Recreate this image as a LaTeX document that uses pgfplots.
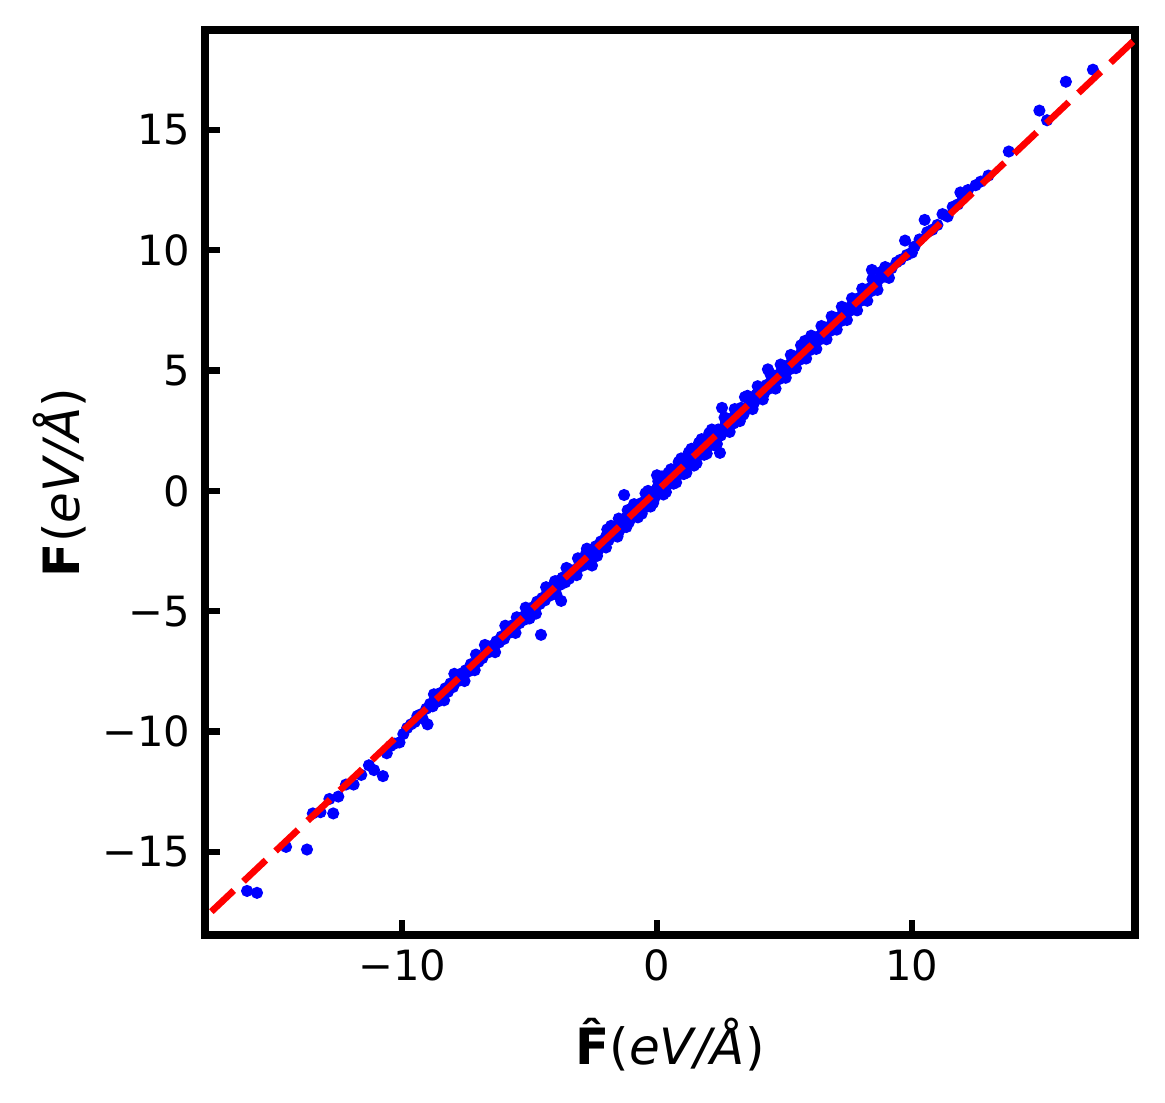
\documentclass[border=0pt]{standalone}
\usepackage{fontspec}
\setmainfont{DejaVu Sans}
\usepackage{pgfplots}
\pgfplotsset{compat=1.18}
\usepackage{pgfplotstable}
\pgfplotstableread{
x y
-16.08 -16.62
-15.69 -16.70
-14.55 -14.79
-13.73 -14.90
-13.50 -13.40
-13.20 -13.35
-12.85 -12.80
-12.70 -13.40
-12.50 -12.70
-12.20 -12.20
-11.90 -12.20
-11.60 -11.80
-11.30 -11.40
-11.10 -11.60
-10.75 -11.85
-10.60 -10.90
-10.45 -10.60
-10.30 -10.50
-10.10 -10.45
-9.95 -10.10
-9.80 -9.85
-9.65 -9.70
-9.50 -9.60
-9.40 -9.35
-9.30 -9.30
-9.20 -9.45
-9.00 -9.70
-9.05 -9.05
-8.90 -8.85
-8.80 -8.95
-8.70 -8.60
-8.60 -8.75
-8.50 -8.40
-8.40 -8.50
-8.30 -8.20
-8.20 -8.35
-8.10 -8.00
-8.00 -8.15
-7.90 -7.85
-7.80 -7.90
-7.70 -7.60
-7.60 -7.75
-7.50 -7.45
-7.40 -7.50
-7.30 -7.20
-7.20 -7.35
-7.10 -6.80
-7.05 -7.05
-7.00 -7.10
-6.85 -6.95
-6.70 -6.60
-6.60 -6.70
-6.50 -6.45
-6.40 -6.50
-6.30 -6.25
-6.20 -6.30
-6.10 -6.05
-6.00 -6.15
-5.90 -5.85
-5.80 -5.90
-5.70 -5.60
-5.60 -5.75
-5.50 -5.45
-5.50 -5.25
-5.40 -5.50
-5.30 -5.25
-5.20 -5.35
-5.10 -5.00
-5.00 -5.10
-5.00 -5.30
-4.90 -4.85
-4.80 -4.95
-4.55 -5.98
-4.70 -4.60
-4.60 -4.70
-4.50 -4.45
-4.40 -4.55
-4.30 -4.20
-4.20 -4.35
-4.10 -4.00
-4.00 -4.20
-4.00 -3.75
-3.90 -3.75
-3.80 -3.90
-3.76 -4.57
-3.70 -3.60
-3.60 -3.80
-3.50 -3.40
-3.45 -3.65
-3.35 -3.30
-3.25 -3.45
-3.10 -2.80
-3.10 -3.20
-3.00 -2.90
-2.90 -3.10
-2.80 -2.65
-2.70 -2.85
-2.60 -2.50
-2.55 -3.10
-2.50 -2.60
-2.40 -2.30
-2.30 -2.45
-2.20 -2.10
-2.10 -2.30
-2.00 -1.90
-2.00 -2.35
-1.90 -2.05
-1.80 -1.70
-1.80 -1.45
-1.70 -1.85
-1.60 -1.50
-1.50 -1.70
-1.50 -1.15
-1.40 -1.30
-1.30 -1.50
-1.29 -0.17
-1.20 -1.10
-1.20 -1.50
-1.10 -1.30
-1.00 -0.90
-0.90 -1.05
-0.90 -0.55
-0.80 -0.70
-0.70 -0.85
-0.60 -0.50
-0.60 -0.95
-0.50 -0.70
-0.40 -0.30
-0.35 0.00
-0.30 -0.50
-0.20 -0.10
-0.15 -0.50
-0.10 -0.30
0.00 0.10
0.00 0.65
0.05 0.40
0.10 -0.10
0.20 0.30
0.20 0.60
0.25 -0.15
0.30 0.10
0.40 0.50
0.45 0.75
0.50 0.30
0.60 0.70
0.65 0.30
0.70 0.50
0.80 0.90
0.85 1.20
0.90 0.70
1.00 1.10
1.05 0.70
1.10 0.90
1.20 1.35
1.25 1.60
1.30 1.10
1.40 1.50
1.45 1.05
1.50 1.30
1.60 1.70
1.65 2.00
1.70 1.50
1.80 1.95
1.85 1.50
1.90 1.70
2.00 2.10
2.05 2.40
2.10 1.90
2.20 2.30
2.25 1.90
2.30 2.15
2.47 1.58
2.40 2.55
2.50 2.30
2.55 3.45
2.70 2.80
2.80 2.60
2.90 3.00
3.00 2.80
3.10 3.25
3.20 3.00
3.30 3.45
3.37 3.16
3.40 3.20
3.45 3.90
3.60 3.50
3.70 3.80
3.80 3.65
3.90 4.00
4.00 3.85
4.10 4.20
4.20 4.05
4.30 4.40
4.35 5.05
4.40 4.25
4.50 4.60
4.60 4.45
4.70 4.80
4.80 4.65
4.90 5.00
5.00 4.85
5.10 5.20
5.20 5.05
5.30 5.40
5.40 5.25
5.50 5.60
5.60 5.45
5.70 5.85
5.80 6.23
5.80 5.65
5.90 6.00
6.00 5.85
6.10 6.20
6.20 6.05
6.30 6.40
6.40 6.30
6.50 6.60
6.60 6.45
6.70 6.80
6.80 6.65
6.90 7.00
7.00 6.90
7.10 7.20
7.20 7.05
7.30 7.40
7.40 7.30
7.50 7.60
7.60 7.50
7.70 7.80
7.80 7.70
7.90 8.00
8.00 7.90
8.10 8.20
8.20 8.10
8.30 8.40
8.43 9.18
8.40 8.30
8.50 8.60
8.60 8.55
8.70 8.80
8.80 9.10
8.90 8.90
9.00 9.10
9.20 9.25
9.73 10.40
9.80 9.80
10.00 9.90
10.10 10.15
10.30 10.45
10.50 11.26
10.60 10.75
10.80 10.85
11.00 11.05
11.20 11.50
11.40 11.40
11.60 11.80
11.80 11.90
11.90 12.40
12.00 12.20
12.20 12.50
12.50 12.70
12.70 12.85
13.00 13.10
13.80 14.10
15.00 15.80
15.30 15.40
16.04 17.00
17.10 17.50
-8.75 -8.45
-8.35 -8.70
-7.95 -7.60
-7.55 -7.90
-7.15 -7.45
-6.75 -6.40
-6.35 -6.70
-5.95 -5.60
-5.55 -5.90
-5.15 -4.85
-4.75 -5.10
-4.35 -4.00
-3.95 -4.30
-3.55 -3.20
-3.15 -3.50
-2.75 -2.40
-2.35 -2.70
-1.95 -1.60
-1.55 -1.90
-1.15 -0.80
-0.75 -1.10
-0.45 -0.10
-0.25 -0.65
0.15 0.50
0.35 -0.05
0.55 0.90
0.75 0.35
0.95 1.35
1.15 0.75
1.35 1.75
1.55 1.15
1.75 2.15
1.95 1.55
2.15 2.55
2.35 1.95
2.65 3.05
2.85 2.45
3.05 3.40
3.25 2.90
3.55 3.95
3.75 3.40
3.95 4.35
4.15 3.80
4.45 4.85
4.65 4.25
4.85 5.25
5.05 4.70
5.25 5.65
5.45 5.10
5.65 6.05
5.85 5.50
6.05 6.45
6.25 5.90
6.45 6.85
6.65 6.30
6.85 7.25
7.05 6.70
7.25 7.65
7.45 7.10
7.65 8.00
7.85 7.50
8.05 8.40
8.25 7.90
8.45 8.80
8.65 8.35
8.95 9.30
9.10 8.85
9.40 9.50
9.55 9.60
}\forces
\begin{document}
\begin{tikzpicture}
\begin{axis}[
  scale only axis,
  width=223.2pt, height=217.2pt,
  xmin=-17.73, xmax=18.75,
  ymin=-18.45, ymax=19.15,
  xtick={-10,0,10},
  xticklabels={−10,0,10},
  ytick={-15,-10,-5,0,5,10,15},
  yticklabels={−15,−10,−5,0,5,10,15},
  xtick pos=bottom, ytick pos=left,
  tick align=inside,
  major tick length=3.5pt,
  major tick style={line width=1.5pt, black},
  axis line style={line width=2pt},
  clip marker paths=true,
  tick label style={font=\fontsize{10}{12}\selectfont},
  label style={font=\fontsize{12}{14}\selectfont},
  xlabel={\textbf{\^{F}}(\textit{eV/Å})},
  ylabel={\textbf{F}(\textit{eV/Å})},
  xlabel style={at={(axis description cs:0.5,-0.1215)}, anchor=center},
  ylabel style={at={(axis description cs:-0.1559,0.5)}, anchor=center},
]
\addplot[only marks, mark=*, mark size=1.25pt, color=blue] table[x=x, y=y] {\forces};
\addplot[red, line width=1.6pt, dash pattern=on 7.4pt off 3.2pt] coordinates {(-20,-20) (20,20)};
\end{axis}
\pgfresetboundingbox
\path[use as bounding box] ([shift={(-49.2pt,-40.3pt)}]current axis.south west) rectangle ([shift={(7.2pt,7.2pt)}]current axis.north east);
\end{tikzpicture}
\end{document}
